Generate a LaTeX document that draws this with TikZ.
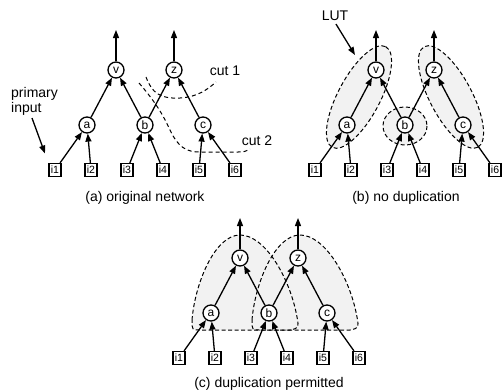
\documentclass[tikz,border=0pt]{standalone}
\usepackage{fontspec}
\setmainfont{Liberation Sans}
\usetikzlibrary{arrows.meta}
\newcommand\mynet[3]{%
\begin{scope}[shift={(#2,#3)}]
 \node[gate] (#1v) at (61,70) {v};
 \node[gate] (#1z) at (119,70) {z};
 \node[gate] (#1a) at (32,125) {a};
 \node[gate] (#1b) at (90,125) {b};
 \node[gate] (#1c) at (148,125) {c};
 \node[pinbox] (#1i1) at (0,170) {i1};
 \node[pinbox] (#1i2) at (36,170) {i2};
 \node[pinbox] (#1i3) at (72,170) {i3};
 \node[pinbox] (#1i4) at (108,170) {i4};
 \node[pinbox] (#1i5) at (144,170) {i5};
 \node[pinbox] (#1i6) at (180,170) {i6};
 \coordinate (#1ov) at (61,30);
 \coordinate (#1oz) at (119,30);
\end{scope}
 \draw[arr] (#1i1) -- (#1a);
 \draw[arr] (#1i2) -- (#1a);
 \draw[arr] (#1i3) -- (#1b);
 \draw[arr] (#1i4) -- (#1b);
 \draw[arr] (#1i5) -- (#1c);
 \draw[arr] (#1i6) -- (#1c);
 \draw[arr] (#1a) -- (#1v);
 \draw[arr] (#1b) -- (#1v);
 \draw[arr] (#1b) -- (#1z);
 \draw[arr] (#1c) -- (#1z);
 \draw[arr] (#1v) -- (#1ov);
 \draw[arr] (#1z) -- (#1oz);
}
\begin{document}
\begin{tikzpicture}[x=1pt,y=-1pt,
  gate/.style={circle,draw,line width=1.3pt,fill=white,minimum size=16pt,inner sep=0pt,font=\fontsize{12}{12}\selectfont},
  pinbox/.style={rectangle,draw,line width=1.2pt,fill=white,minimum width=12pt,minimum height=13pt,inner sep=0.5pt,font=\fontsize{10.5}{10.5}\selectfont},
  arr/.style={line width=1.3pt,-{Triangle[length=8pt,width=6pt]}},
  cutline/.style={dash pattern=on 4pt off 3pt,line width=1pt},
  lutline/.style={dash pattern=on 4pt off 2.5pt,line width=1pt},
  lutfill/.style={fill=gray!10},
  lbl/.style={font=\fontsize{14}{15}\selectfont,inner sep=0pt}]
\useasboundingbox (0,0) rectangle (503,391);

% (b) LUT regions
\fill[lutfill] (359,97) ellipse [x radius=57, y radius=21, rotate=62];
\fill[lutfill] (451,97) ellipse [x radius=57, y radius=21, rotate=-62];
\fill[lutfill] (405,126) ellipse [x radius=22, y radius=19];
\draw[lutline] (359,97) ellipse [x radius=57, y radius=21, rotate=62];
\draw[lutline] (451,97) ellipse [x radius=57, y radius=21, rotate=-62];
\draw[lutline] (405,126) ellipse [x radius=22, y radius=19];

% (c) cones
\fill[lutfill] (192,320) .. controls (195,283) and (215,235) .. (240,235) .. controls (265,235) and (290,278) .. (297,317) .. controls (299,328) .. (290,330) -- (200,330) .. controls (192,330) .. (192,320) -- cycle;
\fill[lutfill] (252,320) .. controls (255,283) and (275,235) .. (300,235) .. controls (325,235) and (350,278) .. (357,317) .. controls (359,328) .. (350,330) -- (260,330) .. controls (252,330) .. (252,320) -- cycle;
\draw[lutline] (192,320) .. controls (195,283) and (215,235) .. (240,235) .. controls (265,235) and (290,278) .. (297,317) .. controls (299,328) .. (290,330) -- (200,330) .. controls (192,330) .. (192,320) -- cycle;
\draw[lutline] (252,320) .. controls (255,283) and (275,235) .. (300,235) .. controls (325,235) and (350,278) .. (357,317) .. controls (359,328) .. (350,330) -- (260,330) .. controls (252,330) .. (252,320) -- cycle;

% networks
\mynet{A}{55}{0}
\mynet{B}{315}{0}
\mynet{C}{179}{188}

% cuts in (a)
\coordinate (c1s) at (146,77);
\coordinate (c1e) at (216,82);
\coordinate (c2s) at (139,83);
\coordinate (c2e) at (250,149);
\draw[cutline] (c1s) .. controls (152,93) and (160,99) .. (180,98) .. controls (198,97) and (208,89) .. (c1e);
\draw[cutline] (c2s) .. controls (152,98) and (162,112) .. (170,130) .. controls (178,147) and (186,152) .. (200,152) -- (238,152) .. controls (244,152) .. (c2e);
\node[lbl] (cut1) at (225,71) {cut 1};
\node[lbl] (cut2) at (257,141) {cut 2};

% primary input
\node[lbl,align=left,anchor=north west] (prim) at (11,87) {primary\\input};
\coordinate (pa) at (32,118);
\draw[arr,shorten >=10pt] (pa) -- (Ai1.north west);

% LUT label
\node[lbl] (lut) at (335,16) {LUT};
\coordinate (lt) at (355,55);
\draw[arr] ([xshift=1pt,yshift=-3pt]lut.south) -- (lt);

% captions
\node[lbl] (capa) at (145,198) {(a) original network};
\node[lbl] (capb) at (406,198) {(b) no duplication};
\node[lbl] (capc) at (269,384) {(c) duplication permitted};
\end{tikzpicture}
\end{document}
